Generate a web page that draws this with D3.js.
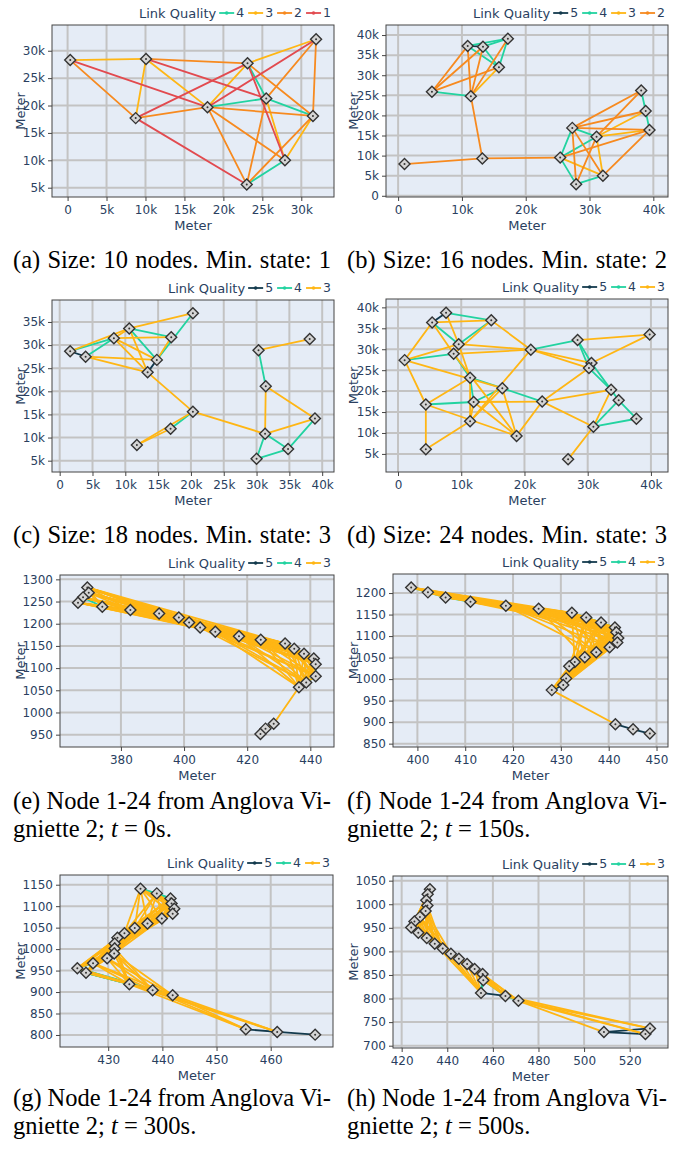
<!DOCTYPE html>
<html>
<head>
<meta charset="utf-8">
<script src="https://cdn.jsdelivr.net/npm/d3@7"></script>
<style>
  body { margin: 0; background: #fff; }
  svg text { font-family: "DejaVu Sans", Verdana, sans-serif; }
  .cap { font-family: "Liberation Serif", "Times New Roman", serif !important; font-size: 24.5px; fill: #000; }
</style>
</head>
<body>
<svg id="fig" width="689" height="1150"></svg>
<script>
// ---- node positions (meters) ----
const nodesA = [[340,28300],[10070,28500],[23100,27700],[31900,32100],[25500,21300],[17960,19700],[8740,17700],[31500,18100],[27900,10000],[23000,5600]];
const nodesB = [[1000,7900],[13200,9300],[25400,9500],[5300,25900],[11400,24800],[10900,37300],[13300,37100],[17200,39100],[15800,32000],[27300,16900],[31100,14700],[27900,2900],[32100,5000],[38100,26200],[38800,21100],[39400,16400]];
const nodesC = [[1600,28670],[3950,27500],[8260,31500],[10600,33600],[17000,31700],[20300,36900],[14800,26800],[13400,24100],[20300,15600],[16900,11900],[11760,8400],[30300,28900],[38100,31300],[31400,21100],[31300,10800],[38900,14100],[34800,7500],[30000,5400]];
const nodesD = [[7600,38700],[5400,36400],[14750,36900],[9600,31200],[8800,28900],[1050,27400],[21000,29900],[28400,32200],[39800,33500],[30600,26700],[30200,25500],[11400,23200],[16500,20700],[33700,20300],[34900,17800],[22800,17500],[11960,17400],[4400,16800],[37700,13400],[11400,12800],[30900,11500],[18750,9300],[4400,6100],[26900,3700]];
const nodesE = [[369.35,1281.9],[369.8,1269.9],[368.0,1259.4],[366.4,1247.3],[374.1,1238.3],[383.0,1230.8],[392.1,1223.2],[398.35,1214.2],[401.6,1202.9],[405.1,1191.6],[409.9,1181.8],[417.4,1172.0],[424.3,1163.8],[432.0,1155.5],[434.9,1143.4],[438.0,1132.2],[441.1,1121.6],[441.7,1108.8],[441.7,1081.7],[438.7,1067.4],[436.4,1056.9],[428.4,974.8],[425.8,963.6],[424.2,951.5]];
const nodesF = [[398.7,1213.2],[402.2,1201.6],[405.9,1189.9],[411.1,1179.8],[418.5,1170.4],[425.35,1163.4],[432.3,1154.1],[435.3,1143.2],[438.4,1131.6],[441.3,1119.9],[441.6,1109.0],[442.0,1095.8],[441.8,1084.9],[440.2,1074.0],[437.4,1062.3],[435.0,1050.7],[432.9,1039.8],[431.75,1029.7],[431.1,1001.7],[430.5,986.1],[428.1,974.4],[441.4,895.1],[445.1,883.4],[448.6,873.3]];
const nodesG = [[435.96,1140.7],[438.97,1129.8],[441.5,1118.1],[441.7,1106.4],[442.2,1094.0],[441.9,1082.3],[439.9,1071.4],[437.25,1059.8],[434.9,1048.9],[433.0,1037.2],[431.7,1026.3],[431.2,1013.1],[431.2,1001.4],[431.1,989.8],[429.8,978.9],[427.2,967.2],[424.3,955.6],[425.9,944.7],[433.9,918.2],[438.2,904.2],[441.9,892.6],[455.4,813.2],[461.2,807.0],[468.2,800.8]];
const nodesH = [[432.4,1031.7],[431.4,1021.1],[430.8,1008.5],[431.3,997.2],[430.5,985.9],[428.0,973.2],[425.6,963.4],[424.2,950.7],[427.3,939.4],[431.0,928.2],[434.5,916.2],[438.0,906.3],[441.6,895.1],[445.1,884.5],[448.7,873.2],[452.0,862.7],[455.5,852.1],[455.8,838.7],[454.8,812.0],[465.5,805.6],[471.2,795.1],[508.7,728.9],[526.9,724.6],[528.9,736.6]];

// ---- links per link quality (pairs of node indices) ----
const linksA = {
  4: [[2,4],[5,4],[4,7],[8,9]],
  3: [[0,1],[1,6],[1,5],[2,3],[2,5],[4,8],[7,8]],
  2: [[0,6],[1,2],[2,7],[3,7],[3,4],[4,9],[5,6],[5,7],[5,8],[5,9],[7,9]],
  1: [[0,5],[1,4],[2,6],[2,8],[6,9],[3,5]]
};
const linksB = {
  5: [[5,6]],
  4: [[3,4],[5,7],[6,7],[5,8],[6,8],[7,8],[2,9],[2,11],[2,10],[9,10],[11,12],[13,14],[14,15]],
  3: [[4,8],[2,12],[10,12],[10,14],[10,15]],
  2: [[0,1],[1,2],[1,4],[3,5],[3,6],[3,8],[4,5],[4,6],[4,7],[2,15],[9,11],[9,12],[9,13],[9,14],[9,15],[10,11],[10,13],[12,15]]
};
const linksC = {
  5: [[0,1],[6,7]],
  4: [[0,2],[1,2],[3,4],[3,6],[5,6],[8,9],[11,13],[15,16],[14,16],[14,17],[16,17]],
  3: [[0,3],[1,6],[1,7],[2,3],[2,4],[2,6],[2,7],[3,5],[3,7],[4,6],[7,8],[8,10],[9,10],[8,14],[11,12],[13,14],[13,15],[14,15]]
};
const linksD = {
  5: [[0,1]],
  4: [[0,2],[1,3],[2,3],[4,5],[4,11],[11,12],[11,16],[12,16],[16,17],[12,15],[6,7],[7,10],[7,9],[9,13],[10,13],[13,14],[14,18],[18,20],[14,20]],
  3: [[0,3],[1,2],[1,4],[1,5],[2,4],[2,6],[3,6],[3,5],[3,11],[4,6],[4,21],[5,12],[5,17],[11,19],[11,17],[12,21],[12,19],[15,16],[16,21],[17,22],[17,21],[19,22],[6,9],[6,10],[6,19],[7,8],[8,9],[10,15],[13,15],[13,20],[15,20],[20,23],[15,21],[16,19]]
};
// dense quality-3 links of the Anglova snapshots: neighbours listed per source node
const yellowE = [[4,5,6,7,8,9,10,11,12,13],[4,5,6,7,8,9,10,11,12,13,14],[5,6,7,8,9,10,11,12],[5,6,7,8,9,10,11],[6,7,8,9,10,11,12,13],[7,8,9,10,11,12,13,14],[8,9,10,11,12,13,14,15],[9,10,11,12,13,14,15,16],[10,11,12,13,14,15,16,17],[11,12,13,14,15,16,17,18,19],[12,13,14,15,16,17,18,19,20],[13,14,15,16,17,18,19,20],[14,15,16,17,18,19,20],[15,16,17,18,19,20],[16,17,18,19,20],[17,18,19,20],[18,19,20],[19,20],[20],[],[21],[23],[],[]];
const yellowF = [[2,3,4,5,6],[3,4,5,6,7],[4,5,6,7,8],[5,6,7,8,9,10],[6,7,8,9,10,11,12,13,14],[7,8,9,10,11,12,13,14,15],[8,9,10,11,12,13,14,15,16],[9,10,11,12,13,14,15,16,17],[10,11,12,13,14,15,16,17],[11,12,13,14,15,16,17],[12,13,14,15,16,17,18],[13,14,15,16,17,18,19],[14,15,16,17,18,19,20],[15,16,17,18,19,20],[16,17,18,19,20],[17,18,19,20],[18,19,20],[19,20],[20],[],[21],[],[],[]];
const yellowG = [[3,4,5,6,7,8,9],[3,4,5,6,7,8,9],[4,5,6,7,8,9,10],[5,6,7,8,9,10],[6,7,8,9,10,11],[7,8,9,10,11,12],[8,9,10,11,12,13],[9,10,11,12,13,14,15],[10,11,12,13,14,15,16],[11,12,13,14,15,16,17],[12,13,14,15,16,17],[13,14,15,16,17,18],[14,15,16,17,18,19],[15,16,17,18,19,20],[16,17,18,19,20],[17,18,19,20],[18,19],[19],[20,21,22],[21,22],[21,22],[],[],[]];
const yellowH = [[2,3,4,5,6,8],[3,4,5,6,7,8,9],[4,5,6,7,8,9,10],[5,6,7,8,9,10,11],[6,7,8,9,10,11,12],[7,8,9,10,11,12],[8,9,10,11,12],[9,10,11],[10,11,12,13],[11,12,13,14],[12,13,14,15,18],[13,14,15,16,18],[14,15,16,17,18],[15,16,17,18,19],[16,17,18,19,20],[17,18,19,20],[19,20],[19,20],[],[22,23],[21,22,23],[],[],[]];
const fromAdj = adj => adj.flatMap((list, i) => list.map(j => [i, j]));
const linksE = {
  5: [[2,3],[3,4],[4,5],[11,12],[12,13],[13,14],[21,22],[22,23]],
  4: [[0,1],[0,2],[1,2],[1,3],[2,4],[3,4],[4,5],[5,6],[6,7],[7,8],[8,9],[9,10],[10,11],[11,12],[12,13],[13,14],[14,15],[15,16],[16,17],[17,18],[18,19],[19,20],[12,14],[13,15],[14,16],[16,18]],
  3: fromAdj(yellowE)
};
const linksF = {
  5: [[3,4],[5,6],[12,13],[13,14],[18,19],[19,20],[21,22],[22,23]],
  4: [[0,1],[1,2],[2,3],[4,5],[5,6],[6,7],[7,8],[8,9],[9,10],[10,11],[11,12],[14,15],[15,16],[16,17],[17,18],[6,8],[7,9],[8,10],[9,11],[13,15],[14,16]],
  3: fromAdj(yellowF)
};
const linksG = {
  5: [[21,22],[22,23]],
  4: [[0,1],[0,2],[1,2],[1,3],[2,3],[3,4],[4,5],[5,6],[6,7],[7,8],[8,9],[9,10],[10,11],[11,12],[12,13],[13,14],[14,15],[15,16],[16,17],[16,19],[16,20],[17,18],[17,19],[17,20],[18,19],[19,20],[15,17],[14,16]],
  3: fromAdj(yellowG)
};
const linksH = {
  5: [[6,7],[7,8],[18,19],[21,22],[21,23],[22,23]],
  4: [[0,1],[1,2],[2,3],[3,4],[4,5],[5,6],[8,9],[9,10],[10,11],[11,12],[12,13],[13,14],[14,15],[15,16],[16,17],[17,18],[17,19],[19,20],[16,18],[5,7],[6,8]],
  3: fromAdj(yellowH)
};

// ---- tick values ----
const ticksA = { x: [0,5000,10000,15000,20000,25000,30000], y: [5000,10000,15000,20000,25000,30000] };
const ticksB = { x: [0,10000,20000,30000,40000], y: [0,5000,10000,15000,20000,25000,30000,35000,40000] };
const ticksC = { x: [0,5000,10000,15000,20000,25000,30000,35000,40000], y: [5000,10000,15000,20000,25000,30000,35000] };
const ticksD = { x: [0,10000,20000,30000,40000], y: [5000,10000,15000,20000,25000,30000,35000,40000] };
const ticksE = { x: [380,400,420,440], y: [950,1000,1050,1100,1150,1200,1250,1300] };
const ticksF = { x: [400,410,420,430,440,450], y: [850,900,950,1000,1050,1100,1150,1200] };
const ticksG = { x: [430,440,450,460], y: [800,850,900,950,1000,1050,1100,1150] };
const ticksH = { x: [420,440,460,480,500,520], y: [700,750,800,850,900,950,1000,1050] };

const legendA = [4,3,2,1];
const legendB = [5,4,3,2];
const legendRest = [5,4,3];

const qualityColor = { 5: '#133a4d', 4: '#22d3a0', 3: '#ffb614', 2: '#f78a1f', 1: '#e24a4f' };
const textColor = '#2a3f5f';
const kFmt = d => d === 0 ? '0' : (d / 1000) + 'k';
const plainFmt = d => String(d);

const leftCol = [13, 331], rightCol = [347, 667];

const panels = [
  { nodes: nodesA, links: linksA, ticks: ticksA, legend: legendA, fmt: kFmt, box: [52,25,334,197], xDom: [-2000,34200], yDom: [3300,34700], titleX: 20, col: leftCol, capY: 268,
    caption: ['(a) Size: 10 nodes. Min. state: 1'] },
  { nodes: nodesB, links: linksB, ticks: ticksB, legend: legendB, fmt: kFmt, box: [386,25,668,197], xDom: [-1900,42300], yDom: [-300,42500], titleX: 353, col: rightCol, capY: 268,
    caption: ['(b) Size: 16 nodes. Min. state: 2'] },
  { nodes: nodesC, links: linksC, ticks: ticksC, legend: legendRest, fmt: kFmt, box: [52,300,334,472], xDom: [-1170,41800], yDom: [2550,39750], titleX: 20, col: leftCol, capY: 543,
    caption: ['(c) Size: 18 nodes. Min. state: 3'] },
  { nodes: nodesD, links: linksD, ticks: ticksD, legend: legendRest, fmt: kFmt, box: [386,299,668,472], xDom: [-1900,42700], yDom: [680,42000], titleX: 353, col: rightCol, capY: 543,
    caption: ['(d) Size: 24 nodes. Min. state: 3'] },
  { nodes: nodesE, links: linksE, ticks: ticksE, legend: legendRest, fmt: plainFmt, box: [60,575,334,747], xDom: [360.7,447.5], yDom: [922.2,1309.8], titleX: 20, col: leftCol, capY: 809,
    caption: ['(e) Node 1-24 from Anglova Vi-', '0s.'] },
  { nodes: nodesF, links: linksF, ticks: ticksF, legend: legendRest, fmt: plainFmt, box: [393,574,668,747], xDom: [394.9,452.4], yDom: [842.2,1244.3], titleX: 353, col: rightCol, capY: 809,
    caption: ['(f) Node 1-24 from Anglova Vi-', '150s.'] },
  { nodes: nodesG, links: linksG, ticks: ticksG, legend: legendRest, fmt: plainFmt, box: [60,875,333,1047], xDom: [421.1,471.5], yDom: [772,1172.6], titleX: 20, col: leftCol, capY: 1106,
    caption: ['(g) Node 1-24 from Anglova Vi-', '300s.'] },
  { nodes: nodesH, links: linksH, ticks: ticksH, legend: legendRest, fmt: plainFmt, box: [393,876,668,1048], xDom: [416.2,536.8], yDom: [695.1,1059.9], titleX: 353, col: rightCol, capY: 1106,
    caption: ['(h) Node 1-24 from Anglova Vi-', '500s.'] }
];

const svg = d3.select('#fig');
const diamond = 'M0,-5.5L5.5,0L0,5.5L-5.5,0Z';

panels.forEach((p, pi) => {
  const [x0, y0, x1, y1] = p.box;
  const x = d3.scaleLinear().domain(p.xDom).range([x0, x1]);
  const y = d3.scaleLinear().domain(p.yDom).range([y1, y0]);
  const g = svg.append('g');

  g.append('clipPath').attr('id', 'clip' + pi).append('rect')
    .attr('x', x0).attr('y', y0).attr('width', x1 - x0).attr('height', y1 - y0);

  g.append('rect').attr('x', x0).attr('y', y0).attr('width', x1 - x0).attr('height', y1 - y0)
    .attr('fill', '#e5ecf6');

  // grid
  const grid = g.append('g').attr('stroke', '#c3c3c3').attr('stroke-width', 2);
  grid.selectAll('line.gx').data(p.ticks.x).join('line').attr('class', 'gx')
    .attr('x1', d => x(d)).attr('x2', d => x(d)).attr('y1', y0).attr('y2', y1);
  grid.selectAll('line.gy').data(p.ticks.y).join('line').attr('class', 'gy')
    .attr('y1', d => y(d)).attr('y2', d => y(d)).attr('x1', x0).attr('x2', x1);

  // links, lowest quality drawn last (on top)
  const linkLayer = g.append('g').attr('clip-path', 'url(#clip' + pi + ')');
  p.legend.forEach(q => {
    linkLayer.append('g').selectAll('line').data(p.links[q] || []).join('line')
      .attr('x1', d => x(p.nodes[d[0]][0])).attr('y1', d => y(p.nodes[d[0]][1]))
      .attr('x2', d => x(p.nodes[d[1]][0])).attr('y2', d => y(p.nodes[d[1]][1]))
      .attr('stroke', qualityColor[q]).attr('stroke-width', 1.8).attr('stroke-linecap', 'round');
  });

  // nodes
  const ng = g.append('g').selectAll('g').data(p.nodes).join('g')
    .attr('transform', d => `translate(${x(d[0])},${y(d[1])})`);
  ng.append('path').attr('d', diamond).attr('fill', '#d4d4d4').attr('stroke', '#333').attr('stroke-width', 1.4);
  ng.append('circle').attr('r', 1).attr('fill', '#333');

  // frame
  g.append('rect').attr('x', x0).attr('y', y0).attr('width', x1 - x0).attr('height', y1 - y0)
    .attr('fill', 'none').attr('stroke', '#444').attr('stroke-width', 1);

  // axes
  const ax = g.append('g').attr('transform', `translate(0,${y1})`)
    .call(d3.axisBottom(x).tickValues(p.ticks.x).tickFormat(p.fmt).tickSize(4).tickPadding(4));
  const ay = g.append('g').attr('transform', `translate(${x0},0)`)
    .call(d3.axisLeft(y).tickValues(p.ticks.y).tickFormat(p.fmt).tickSize(4).tickPadding(3));
  [ax, ay].forEach(a => {
    a.select('.domain').remove();
    a.selectAll('line').attr('stroke', '#444');
    a.selectAll('text').attr('fill', textColor).style('font-size', '12px')
      .style('font-family', '"DejaVu Sans", Verdana, sans-serif');
  });

  g.append('text').attr('x', (x0 + x1) / 2).attr('y', y1 + 33).attr('text-anchor', 'middle')
    .attr('fill', textColor).style('font-size', '13px').text('Meter');
  g.append('text').attr('transform', `translate(${p.titleX + 5},${(y0 + y1) / 2}) rotate(-90)`)
    .attr('text-anchor', 'middle').attr('fill', textColor).style('font-size', '13px').text('Meter');

  // legend, right aligned above the plot
  const lg = g.append('g');
  const ly = y0 - 12;
  let cursor = x1 - 3;
  p.legend.slice().reverse().forEach(q => {
    const t = lg.append('text').attr('y', ly).attr('dy', '0.35em').attr('fill', textColor)
      .style('font-size', '12.5px').text(q);
    const w = t.node().getComputedTextLength();
    t.attr('x', cursor - w);
    cursor -= w + 2;
    lg.append('line').attr('x1', cursor - 15).attr('x2', cursor).attr('y1', ly).attr('y2', ly)
      .attr('stroke', qualityColor[q]).attr('stroke-width', 1.8);
    lg.append('circle').attr('cx', cursor - 7.5).attr('cy', ly).attr('r', 1.8).attr('fill', qualityColor[q]);
    cursor -= 15 + 4;
  });
  lg.append('text').attr('x', cursor + 1).attr('y', ly).attr('dy', '0.35em').attr('text-anchor', 'end')
    .attr('fill', textColor).style('font-size', '13px').text('Link Quality');

  // caption
  const [c0, c1] = p.col;
  const line1 = svg.append('text').attr('class', 'cap').attr('x', c0).attr('y', p.capY).text(p.caption[0]);
  const natural = line1.node().getComputedTextLength();
  const spaces = (p.caption[0].match(/ /g) || []).length;
  line1.style('word-spacing', ((c1 - c0 - natural) / spaces) + 'px');
  if (p.caption.length > 1) {
    const line2 = svg.append('text').attr('class', 'cap').attr('x', c0).attr('y', p.capY + 28);
    line2.append('tspan').text('gniette 2; ');
    line2.append('tspan').style('font-style', 'italic').text('t');
    line2.append('tspan').text(' = ' + p.caption[1]);
  }
});
</script>
</body>
</html>
